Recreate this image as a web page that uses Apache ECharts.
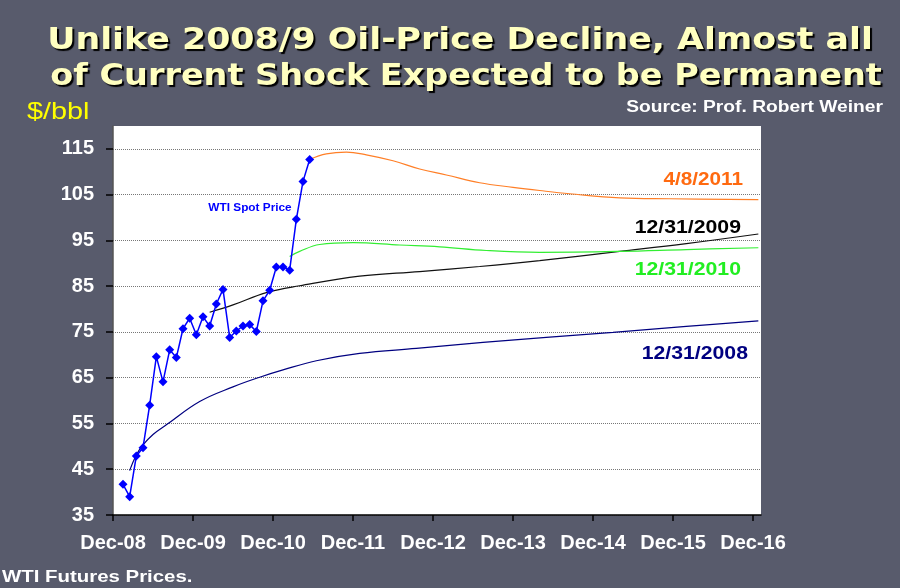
<!DOCTYPE html>
<html>
<head>
<meta charset="utf-8">
<script src="https://cdn.jsdelivr.net/npm/echarts@6/dist/echarts.min.js"></script>
<style>
  html, body { margin: 0; padding: 0; background: #585b6c; }
  #main { width: 900px; height: 588px; }
</style>
</head>
<body>
<div id="main"></div>
<script>
// x values are months after Dec-08
var xTickValues = [0, 12, 24, 36, 48, 60, 72, 84, 96];
var xTickLabels = ['Dec-08', 'Dec-09', 'Dec-10', 'Dec-11', 'Dec-12', 'Dec-13', 'Dec-14', 'Dec-15', 'Dec-16'];
var yTickValues = [35, 45, 55, 65, 75, 85, 95, 105, 115];

var spotMonths = [1.5, 2.5, 3.5, 4.5, 5.5, 6.5, 7.5, 8.5, 9.5, 10.5, 11.5, 12.5, 13.5, 14.5, 15.5,
                  16.5, 17.5, 18.5, 19.5, 20.5, 21.5, 22.5, 23.5, 24.5, 25.5, 26.5, 27.5, 28.5, 29.5];
var spotPrices = [41.7, 39.0, 47.9, 49.7, 59.0, 69.6, 64.1, 71.1, 69.4, 75.7, 78.0, 74.4, 78.3, 76.3, 81.1,
                  84.3, 73.8, 75.2, 76.3, 76.6, 75.1, 81.8, 84.1, 89.2, 89.2, 88.5, 99.6, 107.9, 112.7];

var futures20081231 = [[2.5, 44.7], [3.5, 48.1], [4.5, 50.3], [6, 52.6], [8, 54.7], [13, 59.8], [18, 63.0],
                       [22, 65.1], [25.5, 66.7], [30.5, 68.7], [37, 70.3], [45.5, 71.4], [55.5, 72.7],
                       [65, 73.8], [75, 74.9], [86, 76.2], [96.8, 77.4]];
var futures20091231 = [[14.5, 79.3], [18, 80.9], [23, 83.6], [28, 85.1], [37, 87.2], [46, 88.2], [55, 89.3],
                       [64, 90.6], [76, 92.6], [86, 94.3], [96.8, 96.4]];
var futures20101231 = [[26.5, 91.5], [28, 92.6], [31, 94.1], [36, 94.5], [43, 94.0], [49, 93.6], [56, 92.8],
                       [64, 92.4], [76, 92.6], [86, 93.0], [96.8, 93.4]];
var futures20110408 = [[29.5, 112.7], [32, 113.9], [35, 114.3], [38, 113.7], [42, 112.4], [46, 110.6],
                       [50, 109.3], [55, 107.6], [60, 106.6], [64, 105.9], [68.5, 105.2], [76, 104.3],
                       [83.5, 104.1], [96.8, 103.9]];

var spotData = spotMonths.map(function (m, i) { return [m, spotPrices[i]]; });

function txt(text, x, y, align, font, color, size, sx, weight, shadow) {
    var style = {
        text: text, x: 0, y: 0, fill: color, align: align, verticalAlign: 'middle',
        fontFamily: font, fontSize: size, fontWeight: weight || 'bold'
    };
    if (shadow) {
        style.textShadowColor = '#000';
        style.textShadowOffsetX = 2;
        style.textShadowOffsetY = 2;
        style.textShadowBlur = 1;
    }
    return { type: 'text', x: x, y: y, scaleX: sx, style: style, z: 100 };
}

var myChart = echarts.init(document.getElementById('main'));
option = {
    backgroundColor: '#585b6c',
    animation: false,
    grid: {
        left: 113, right: 139, top: 126, bottom: 73,
        show: true, backgroundColor: '#fff', borderWidth: 0
    },
    xAxis: {
        type: 'value',
        min: 0,
        max: 97.2,
        axisLine: { lineStyle: { color: '#000', width: 1.5 } },
        axisTick: { show: true, length: 6, lineStyle: { color: '#000', width: 1.5 }, customValues: xTickValues },
        axisLabel: {
            customValues: xTickValues,
            color: '#fff', fontFamily: 'Liberation Sans', fontWeight: 'bold', fontSize: 20, margin: 18,
            formatter: function (v) { return xTickLabels[xTickValues.indexOf(v)]; }
        },
        splitLine: { show: false }
    },
    yAxis: {
        type: 'value',
        min: 35,
        max: 120,
        axisLine: { show: true, lineStyle: { color: '#555', width: 1.5 } },
        axisTick: { show: true, length: 7, lineStyle: { color: '#000', width: 1.5 }, customValues: yTickValues },
        axisLabel: {
            customValues: yTickValues,
            color: '#fff', fontFamily: 'Liberation Sans', fontWeight: 'bold', fontSize: 20, margin: 19
        },
        splitLine: { show: true, lineStyle: { color: '#777', type: 'dotted', width: 1 } }
    },
    series: [
        {
            name: '12/31/2008', type: 'line', data: futures20081231, smooth: 0.4, showSymbol: false,
            lineStyle: { color: '#000080', width: 1.2 }, z: 2
        },
        {
            name: '12/31/2009', type: 'line', data: futures20091231, smooth: 0.4, showSymbol: false,
            lineStyle: { color: '#111', width: 1.2 }, z: 2
        },
        {
            name: '12/31/2010', type: 'line', data: futures20101231, smooth: 0.4, showSymbol: false,
            lineStyle: { color: '#33ee33', width: 1.2 }, z: 2
        },
        {
            name: '4/8/2011', type: 'line', data: futures20110408, smooth: 0.4, showSymbol: false,
            lineStyle: { color: '#ff7f27', width: 1.2 }, z: 2
        },
        {
            name: 'WTI Spot Price', type: 'line', data: spotData, symbol: 'diamond', symbolSize: 9,
            itemStyle: { color: '#0000ff' }, lineStyle: { color: '#0000ff', width: 1.5 }, z: 3
        }
    ],
    graphic: [
        txt('Unlike 2008/9 Oil-Price Decline, Almost all', 460, 41, 'center', 'DejaVu Sans', '#ffffc0', 31, 1.122, 'bold', true),
        txt('of Current Shock Expected to be Permanent', 466, 77, 'center', 'DejaVu Sans', '#ffffc0', 31, 1.08, 'bold', true),
        txt('$/bbl', 27, 112, 'left', 'Liberation Sans', '#ffff00', 24, 1.2, 'normal'),
        txt('Source: Prof. Robert Weiner', 883, 108, 'right', 'Liberation Sans', '#fff', 16, 1.2),
        txt('WTI Futures Prices.', 2, 577, 'left', 'Liberation Sans', '#fff', 17, 1.2),
        txt('4/8/2011', 743, 180, 'right', 'Liberation Sans', '#ff6a10', 18, 1.15),
        txt('12/31/2009', 741, 228, 'right', 'Liberation Sans', '#000', 18, 1.18),
        txt('12/31/2010', 741, 270, 'right', 'Liberation Sans', '#22ee22', 18, 1.18),
        txt('12/31/2008', 748, 354, 'right', 'Liberation Sans', '#000080', 18, 1.18),
        txt('WTI Spot Price', 250, 208, 'center', 'Liberation Sans', '#0000ff', 10, 1.18)
    ]
};
myChart.setOption(option);
</script>
</body>
</html>
